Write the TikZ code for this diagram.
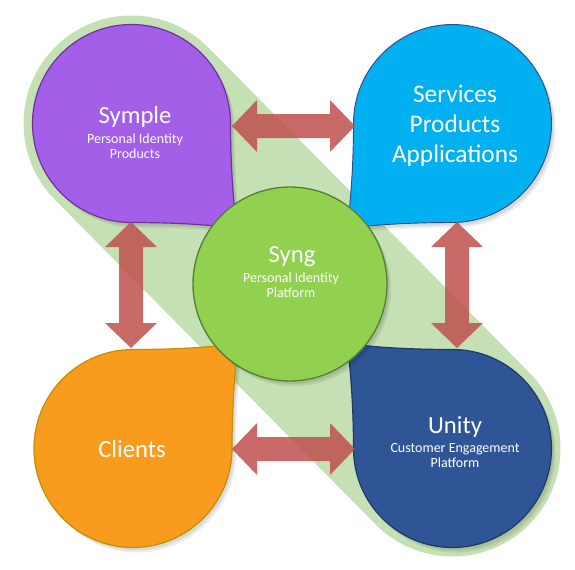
\documentclass[tikz,border=0pt]{standalone}
\usepackage{fontspec}
\setmainfont{Carlito}
\usetikzlibrary{calc}
\definecolor{bandc}{HTML}{C5E0B4}
\definecolor{sympleF}{HTML}{A35FE8}
\definecolor{sympleD}{HTML}{7030A0}
\definecolor{servF}{HTML}{00B0F0}
\definecolor{servD}{HTML}{2F4A8A}
\definecolor{cliF}{HTML}{F99B1C}
\definecolor{cliD}{HTML}{BF9000}
\definecolor{uniF}{HTML}{2F5597}
\definecolor{uniD}{HTML}{1F3864}
\definecolor{syngF}{HTML}{92D050}
\definecolor{syngD}{HTML}{548235}
\definecolor{arrowred}{HTML}{C0504D}
\newcommand\teardrop[5]{%
  \begin{scope}[shift={(#1,#2)},xscale=#3,yscale=#4]
    \path[#5] (0,99) arc[start angle=90,end angle=360,radius=99]
      .. controls (99,50) and (103,85) .. (105,105)
      .. controls (85,102) and (50,99) .. cycle;
  \end{scope}}
\newcommand\tdshadow[4]{%
  \teardrop{#1+4}{#2+5}{#3}{#4}{fill=black,opacity=0.07}
  \teardrop{#1+2.5}{#2+3}{#3}{#4}{fill=black,opacity=0.08}}
\newcommand\harrow[2]{\fill[redarrow] (#1) -- ($(#1)+(25,-26)$) -- ($(#1)+(25,-12)$)
  -- ($(#2)+(-25,-12)$) -- ($(#2)+(-25,-26)$) -- (#2) -- ($(#2)+(-25,26)$)
  -- ($(#2)+(-25,12)$) -- ($(#1)+(25,12)$) -- ($(#1)+(25,26)$) -- cycle;}
\newcommand\varrow[2]{\fill[redarrow] (#1) -- ($(#1)+(-26,25)$) -- ($(#1)+(-12,25)$)
  -- ($(#2)+(-12,-25)$) -- ($(#2)+(-26,-25)$) -- (#2) -- ($(#2)+(26,-25)$)
  -- ($(#2)+(12,-25)$) -- ($(#1)+(12,25)$) -- ($(#1)+(26,25)$) -- cycle;}
\begin{document}
\begin{tikzpicture}[x=0.75pt,y=-0.75pt,
  redarrow/.style={fill=arrowred,fill opacity=0.85},
  ttl/.style={text=white,font=\fontsize{18.5}{22}\selectfont,anchor=base,inner sep=0},
  ttlb/.style={text=white,font=\fontsize{19}{22}\selectfont,anchor=base,inner sep=0},
  sub/.style={text=white,font=\fontsize{10.5}{12}\selectfont,anchor=base,inner sep=0}]
\useasboundingbox (0,0) rectangle (575,569);
% centres
\coordinate (cS) at (131.5,123.5);
\coordinate (cV) at (452.5,123.5);
\coordinate (cC) at (133,448.5);
\coordinate (cU) at (452.5,448.5);
\coordinate (cG) at (290,284);
% green band
\draw[bandc,line width=162pt,line cap=round] (cS) -- (cU);
% teardrops with shadows
\tdshadow{131.5}{123.5}{1}{1}
\teardrop{131.5}{123.5}{1}{1}{fill=sympleF,draw=sympleD,line width=0.9pt}
\tdshadow{452.5}{123.5}{-1}{1}
\teardrop{452.5}{123.5}{-1}{1}{fill=servF,draw=servD,line width=0.7pt}
\tdshadow{133}{448.5}{1}{-1}
\teardrop{133}{448.5}{1}{-1}{fill=cliF,draw=cliD,line width=0.9pt}
\tdshadow{452.5}{448.5}{-1}{-1}
\teardrop{452.5}{448.5}{-1}{-1}{fill=uniF,draw=uniD,line width=0.9pt}
% central circle
\fill[black,opacity=0.08] ($(cG)+(4,5)$) circle[radius=97];
\fill[black,opacity=0.08] ($(cG)+(2.5,3)$) circle[radius=97];
\path[fill=syngF,draw=syngD,line width=1pt] (cG) circle[radius=97];
% arrows
\coordinate (at1) at (232,126); \coordinate (at2) at (355,126);
\coordinate (ab1) at (232,449); \coordinate (ab2) at (355,449);
\coordinate (al1) at (131,222); \coordinate (al2) at (131,348);
\coordinate (ar1) at (457,222); \coordinate (ar2) at (457,348);
\harrow{at1}{at2}
\harrow{ab1}{ab2}
\varrow{al1}{al2}
\varrow{ar1}{ar2}
% texts
\node[ttl] (s1) at (135,123) {Symple};
\node[sub] (s2) at (135,143) {Personal Identity};
\node[sub] (s3) at (135,158) {Products};
\node[ttlb] (v1) at (455,102) {Services};
\node[ttlb] (v2) at (455,132) {Products};
\node[ttlb] (v3) at (455,162) {Applications};
\node[ttl] (g1) at (292,262) {Syng};
\node[sub] (g2) at (291,282) {Personal Identity};
\node[sub] (g3) at (291,297) {Platform};
\node[ttl] (c1) at (132,457) {Clients};
\node[ttl] (u1) at (455,433) {Unity};
\node[sub] (u2) at (455,452) {Customer Engagement};
\node[sub] (u3) at (455,467) {Platform};
\end{tikzpicture}
\end{document}
